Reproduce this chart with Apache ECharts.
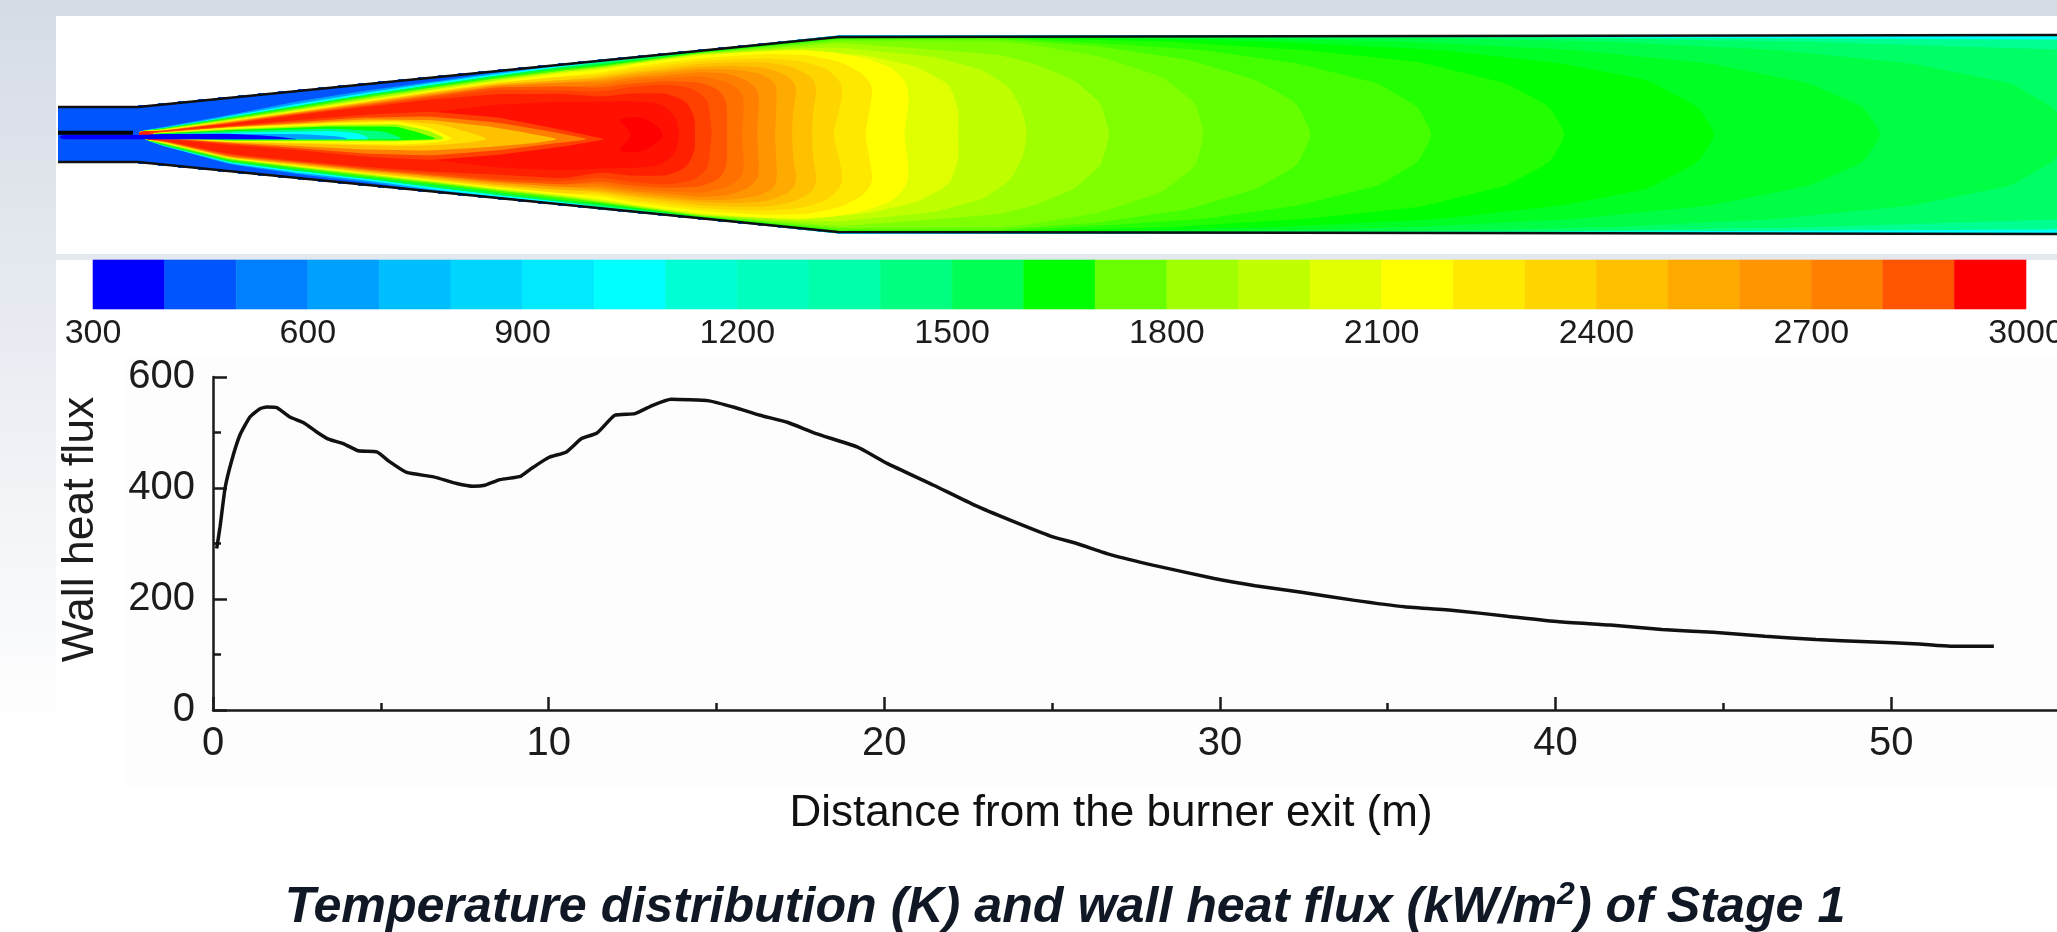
<!DOCTYPE html>
<html><head><meta charset="utf-8">
<style>html,body{margin:0;padding:0;background:#fff;overflow:hidden}#c{width:2057px;height:932px}</style>
<script src="https://cdn.jsdelivr.net/npm/echarts@6/dist/echarts.min.js"></script>
</head><body><div id="c"></div>
<script>
// ---- wall heat flux curve
const distance=[0.11,0.21,0.36,0.56,0.80,1.10,1.40,1.60,1.90,2.29,2.69,3.09,3.44,3.88,4.33,4.88,5.27,5.77,6.57,7.26,7.76,8.10,8.55,9.16,9.46,10.0,10.53,10.98,11.44,11.97,12.57,13.1,13.65,14.78,15.55,16.3,17.13,17.97,19.19,20.1,21.47,22.69,23.75,24.97,25.73,26.79,28.0,29.83,31.05,32.43,33.97,35.5,37.04,38.56,40.1,41.63,43.17,44.7,46.24,47.76,49.3,50.83,51.76,53.06];
const wallHeatFlux=[291,330,400,450,495,528,543,546,545,528,518,501,488,480,467,465,447,428,420,408,403,405,415,421,434,455,465,489,499,531,534,549,560,557,545,531,518,498,474,444,405,369,342,313,300,279,261,237,224,212,198,186,179,169,159,153,145,140,133,127,123,119,115,115];
// ---- temperature colour scale
const scaleStart=[300,400,500,600,700,800,900,1000,1100,1200,1300,1400,1500,1600,1700,1800,1900,2000,2100,2200,2300,2400,2500,2600,2700,2800,2900];
const scaleColors=['#0000FF','#0055FF','#0080FF','#00A0FF','#00BFFF','#00D5FF','#00EAFF','#00FFFF','#00FFD5','#00FFBF','#00FFAA','#00FF80','#00FF55','#00FF00','#6AFF00','#A0FF00','#BFFF00','#E0FF00','#FFFF00','#FFEA00','#FFD500','#FFC000','#FFAA00','#FF9500','#FF8000','#FF5500','#FF0000'];
// ---- duct wall (axial position, half height)
const wallX=[58,138,158,178,198,218,238,258,278,298,318,338,358,378,398,418,438,458,478,498,518,538,558,578,598,618,638,658,678,698,718,738,758,778,798,818,838,2060];
const wallR=[27.5,29.5,31.5,33.5,35.5,37.5,39.5,41.5,43.5,45.5,47.5,49.5,51.5,53.5,55.5,57.5,59.5,61.5,63.5,65.5,67.5,69.5,71.5,73.5,75.5,77.5,79.5,81.5,83.5,85.5,87.5,89.5,91.5,93.5,95.5,97.5,99.5,99.5];
const lanceTip=[[58,1.8],[133,1.8]];
// ---- isotherm positions on the flame flanks at these axial stations
const flankStations=[163,230,297,363,430,497,563];
const flankBlueUp=[7.5,19.8,33,43.5,52.5,62,70.8], flankBlueLow=[-11,-29.8,-39.5,-47.2,-56.2,-63.8,-70.8];
const flankCyanUp=[6.5,18.5,30.5,41.2,51.2,60.5,69.2], flankCyanLow=[-11.5,-28.8,-38.2,-45.5,-54.5,-62.2,-69.5];
const flankSpringUp=[6.2,17.2,28.5,39.2,49.2,58.8,67.5], flankSpringLow=[-10.8,-27.5,-36.2,-43.8,-52.2,-60.2,-67.5];
const flankGreenUp=[5.5,16.2,27.2,37.8,47.2,57.2,65.5], flankGreenLow=[-9.5,-26.2,-34.2,-42.2,-49.5,-57.8,-65.5];
const flankLimeUp=[5.2,15.2,25.5,36.2,46.2,55.8,63.8], flankLimeLow=[-8.8,-24.8,-32.8,-40.5,-47.8,-55.8,-62.8];
const flankChartUp=[4.8,14.5,24.5,34.5,44.5,54.2,62.5], flankChartLow=[-8.5,-24.2,-32.2,-39.5,-46.8,-54.8,-61.5];
const flankYellowUp=[4.5,13.8,23.5,33.2,43.5,52.8,61.2], flankYellowLow=[-7.8,-23.8,-31.5,-38.8,-46.2,-53.8,-60.5];
const flankGoldUp=[4.2,13.5,22.8,32.5,42.5,51.8,58], flankGoldLow=[-7.5,-23.5,-30.8,-38.2,-45.2,-52.5,-58.8];
const flankAmberUp=[3.8,12.8,22.2,31.5,41.2,50.2,54.5], flankAmberLow=[-7.2,-22.8,-29.8,-36.8,-43.5,-50.5,-55.5];
const flankOrangeUp=[3.8,12.2,21.5,30.5,39.8,48.8,52], flankOrangeLow=[-6.8,-22.2,-28.8,-35.5,-41.8,-48.2,-52.5];
const flankDeepUp=[3.5,11.5,20.8,29.2,38.2,47.2,48], flankDeepLow=[-6.5,-21.5,-27.8,-34.5,-40.5,-46.5,-50];
const flankVermUp=[3.5,11.2,20.2,28.2,36.5,44.8,44], flankVermLow=[-6.2,-20.5,-27.2,-33.5,-38.8,-44.5,-47];
const flankRedUp=[3.2,10.8,19.5,27.2,34.8,40.5,40.5], flankRedLow=[-5.8,-19.5,-26.2,-32.2,-37.2,-40,-44];
// ---- isotherm continuation downstream (symmetric about the axis)
const tails={
 '#00A0FF':[[600,75],[700,84.5],[840,99.3],[2070,99.3]],
 '#00FFFF':[[600,73.5],[700,84],[840,99],[2070,99]],
 '#00FF90':[[600,72.5],[700,83.5],[840,98.4],[1500,97.5],[2070,95]],
 '#00FF66':[[600,71.5],[700,83],[840,98],[1539,96.8],[1809,92.8],[2070,84.5]],
 '#00FF44':[[600,70.5],[700,82.7],[840,97.7],[1405,96.8],[1607,92.8],[1775,84.5],[1910,71.2],[2011,51.2],[2057,24.5],[2062,0]],
 '#00FF22':[[600,70],[700,82.5],[840,97.4],[1202,97.2],[1405,92.8],[1573,84.5],[1708,71.2],[1809,51.2],[1863,27.8],[1882,0]],
 '#00FF00':[[600,69.5],[700,82.3],[840,97.2],[1067,97.2],[1270,92.8],[1438,84.5],[1560,71.2],[1647,54.5],[1698,27.8],[1716,0]],
 '#22FF00':[[600,69],[700,82],[840,96.8],[1000,97],[1169,92.8],[1303,84.5],[1418,72.8],[1506,51.2],[1550,27.8],[1566,0]],
 '#44FF00':[[600,68.8],[700,81.8],[840,96],[1000,96.4],[1101,91.2],[1202,84.5],[1297,71.2],[1378,51.2],[1418,27.8],[1433,0]],
 '#66FF00':[[600,68.3],[700,81.5],[840,95],[1000,95.2],[1101,87.8],[1189,74.5],[1256,54.5],[1297,31.2],[1312,0]],
 '#80FF00':[[600,67.8],[700,81.2],[840,93.5],[1000,92.8],[1034,89.5],[1101,77.8],[1162,57.8],[1196,31.2],[1204,0]],
 '#A0FF00':[[600,67.3],[700,80.9],[840,91.5],[920,86],[1000,79.5],[1034,71.2],[1074,54.5],[1101,31.2],[1110,0]],
 '#BFFF00':[[600,66.7],[700,80.5],[800,86.5],[840,87],[883,82.8],[933,77.8],[983,64.5],[1010,46.2],[1023,22.8],[1027,0]],
 '#E0FF00':[[600,65.8],[700,80],[800,85],[867,79],[917,67.8],[950,49.5],[959,22.8],[958,0]],
 '#FFFF00':[[600,64.5],[633,70.2],[667,74.5],[700,78.8],[733,81.5],[767,83.5],[800,84.5],[833,82.2],[867,76.2],[893,66.2],[907,51.2],[909,32.8],[904,0]],
 '#FFE800':[[600,61.8],[633,67.8],[667,72.2],[700,76.2],[733,78.5],[767,80.5],[807,79.5],[840,72.8],[863,61.2],[873,47.8],[870,26.2],[865,0]],
 '#FFD500':[[600,59.5],[633,65.5],[667,69.5],[700,73.5],[733,75.5],[767,76.2],[800,73.8],[827,66.2],[842,51.2],[842,36.2],[833,0]],
 '#FFC000':[[600,57.8],[633,62.8],[667,66.8],[700,70.8],[733,72.2],[767,72.2],[793,67.8],[812,57.8],[817,46.2],[813,22.8],[812,0]],
 '#FFAA00':[[600,56.2],[633,61.2],[667,64.5],[700,67.8],[733,68.8],[767,66.8],[790,57.8],[797,46.2],[793,22.8],[792,0]],
 '#FF9500':[[600,54.5],[633,58.8],[667,62.2],[700,65.5],[733,65.2],[760,61.2],[775,52.8],[777,41.2],[775,0]],
 '#FF8000':[[600,52.2],[633,56.8],[667,59.5],[700,62.5],[727,61.2],[747,54.5],[758,44.5],[759,32.8],[757,0]],
 '#FF7000':[[600,49.5],[633,54.5],[667,56.8],[700,58.8],[727,52.8],[742,42.8],[744,29.5],[742,0]],
 '#FF5500':[[600,46.8],[633,51.2],[667,53.5],[700,52.2],[720,44.5],[727,31.2],[727,0]],
 '#FF4000':[[600,42.8],[633,47.8],[667,50.2],[693,46.2],[708,34.5],[712,0]],
 '#FF2000':[[600,37.8],[633,41.2],[667,41.2],[687,32.8],[695,16.2],[695,0]]
};
// ---- closed hot cores and the colder central jet
const coreDeepRed=[[430,22],[497,30],[563,32.8],[600,32.8],[633,33.5],[660,31.2],[675,19.5],[680,0],[675,-19.5],[660,-31.2],[633,-33.5],[600,-34],[563,-36],[497,-33],[430,-25]];
const corePureRed=[[617,16.2],[643,17.8],[660,6.2],[663,0],[660,-6],[643,-17.5],[617,-17.8],[633,0]];
const jetBands={
 '#FF4000':[[145,2],[230,8.8],[297,14.5],[363,19.5],[430,22.8],[497,17.2],[563,4.5],[607,-4.8],[563,-12],[497,-20.5],[430,-25.5],[363,-22],[297,-15.5],[230,-10.5],[163,-4]],
 '#FF8000':[[150,1.5],[230,7.8],[297,12.5],[363,17],[430,18],[497,12],[545,4],[590,-4.8],[545,-10],[497,-16],[430,-21],[363,-19],[297,-13.5],[230,-9],[163,-3.5]],
 '#FFC000':[[150,1.2],[230,7.2],[297,11],[363,15],[430,14.5],[490,8],[530,1],[560,-4.8],[530,-9],[490,-12.5],[430,-16],[363,-15],[297,-11.5],[230,-8],[163,-3.5]],
 '#FFE000':[[150,1.1],[230,7],[330,12],[397,14],[440,10],[470,2],[490,-4.8],[460,-9],[430,-11],[397,-11.5],[330,-10],[230,-7.6],[163,-3]],
 '#FFFF00':[[150,1],[230,6.8],[330,11.2],[397,12.8],[430,7],[455,-4.8],[430,-8.8],[397,-10],[330,-9],[230,-7.2],[163,-3]],
 '#A0FF00':[[150,.8],[230,5.5],[330,9.6],[397,10.4],[430,3.5],[447,-4.8],[397,-7],[230,-6.5],[163,-3]],
 '#00FF00':[[150,.5],[230,4.5],[330,8],[397,8],[425,0],[438,-4.8],[397,-5.8],[230,-5.8],[163,-3]],
 '#00FF80':[[150,0],[230,3.2],[330,6],[385,3],[405,-4.8],[230,-5],[160,-3.5]],
 '#00FFFF':[[150,-.5],[230,1.8],[330,3.5],[358,1.5],[372,-4.8],[160,-4.5]],
 '#00A0FF':[[150,-1],[230,.6],[300,.5],[340,-2],[350,-4.8],[155,-4.8]],
 '#0000FF':[[60,-.5],[140,-.5],[160,.5],[230,.8],[270,-1.5],[300,-4.8],[60,-4.8]]
};

function mirrored(tail){ return tail.slice().reverse().filter(p=>p[1]!==0).map(p=>[p[0],-p[1]]); }
function isotherm(up,low,tail){
  const a=flankStations.map((x,i)=>[x,up[i]]);
  const b=flankStations.map((x,i)=>[x,low[i]]).reverse();
  return [[137,3]].concat(a,tail,mirrored(tail),b,[[143,-4.5]]);
}
// Rounds each corner of a closed outline without ever leaving its hull.
function rounded(points,passes,reach){
  let pts=points;
  for(let n=0;n<passes;n++){
    const out=[];
    pts.forEach((p,i)=>{
      const q=pts[(i+1)%pts.length];
      const len=Math.hypot(q[0]-p[0],q[1]-p[1])||1;
      const t=Math.min(.25,reach/len);
      out.push([p[0]+(q[0]-p[0])*t,p[1]+(q[1]-p[1])*t]);
      out.push([q[0]-(q[0]-p[0])*t,q[1]-(q[1]-p[1])*t]);
    });
    pts=out;
  }
  return pts;
}
const ductOutline=(function(){
  const top=[];wallX.forEach((x,i)=>{ if(i>0) top.push([x,wallR[i-1]]); top.push([x,wallR[i]]); });
  return top.concat(top.slice().reverse().map(p=>[p[0],-p[1]]));
})();
const fieldBands=[
 ['#0055FF',ductOutline],
 ['#00A0FF',isotherm(flankBlueUp,flankBlueLow,tails['#00A0FF'])],
 ['#00FFFF',isotherm(flankCyanUp,flankCyanLow,tails['#00FFFF'])],
 ['#00FF90',isotherm(flankSpringUp,flankSpringLow,tails['#00FF90'])],
 ['#00FF66',isotherm(flankSpringUp,flankSpringLow,tails['#00FF66'])],
 ['#00FF44',isotherm(flankSpringUp,flankSpringLow,tails['#00FF44'])],
 ['#00FF22',isotherm(flankGreenUp,flankGreenLow,tails['#00FF22'])],
 ['#00FF00',isotherm(flankGreenUp,flankGreenLow,tails['#00FF00'])],
 ['#22FF00',isotherm(flankGreenUp,flankGreenLow,tails['#22FF00'])],
 ['#44FF00',isotherm(flankGreenUp,flankGreenLow,tails['#44FF00'])],
 ['#66FF00',isotherm(flankLimeUp,flankLimeLow,tails['#66FF00'])],
 ['#80FF00',isotherm(flankLimeUp,flankLimeLow,tails['#80FF00'])],
 ['#A0FF00',isotherm(flankLimeUp,flankLimeLow,tails['#A0FF00'])],
 ['#BFFF00',isotherm(flankChartUp,flankChartLow,tails['#BFFF00'])],
 ['#E0FF00',isotherm(flankChartUp,flankChartLow,tails['#E0FF00'])],
 ['#FFFF00',isotherm(flankYellowUp,flankYellowLow,tails['#FFFF00'])],
 ['#FFE800',isotherm(flankGoldUp,flankGoldLow,tails['#FFE800'])],
 ['#FFD500',isotherm(flankGoldUp,flankGoldLow,tails['#FFD500'])],
 ['#FFC000',isotherm(flankAmberUp,flankAmberLow,tails['#FFC000'])],
 ['#FFAA00',isotherm(flankAmberUp,flankAmberLow,tails['#FFAA00'])],
 ['#FF9500',isotherm(flankOrangeUp,flankOrangeLow,tails['#FF9500'])],
 ['#FF8000',isotherm(flankOrangeUp,flankOrangeLow,tails['#FF8000'])],
 ['#FF7000',isotherm(flankDeepUp,flankDeepLow,tails['#FF7000'])],
 ['#FF5500',isotherm(flankDeepUp,flankDeepLow,tails['#FF5500'])],
 ['#FF4000',isotherm(flankVermUp,flankVermLow,tails['#FF4000'])],
 ['#FF2000',isotherm(flankRedUp,flankRedLow,tails['#FF2000'])],
 ['#FF1000',coreDeepRed],
 ['#FF0000',corePureRed]
].concat(Object.keys(jetBands).map(c=>[c,jetBands[c]]));

const FONT='"Liberation Sans",Arial,sans-serif';
const INK='#1c1c1c';
const chart=echarts.init(document.getElementById('c'),null,{renderer:'canvas'});
chart.setOption({
  animation:false,
  backgroundColor:'#ffffff',
  title:{
    text:'{t|Temperature distribution (K) and wall heat flux (kW/m}{s|2}{t|) of Stage 1}',
    left:1060,top:874,textAlign:'center',
    textStyle:{rich:{
      t:{fontFamily:FONT,fontSize:50.2,fontWeight:'bold',fontStyle:'italic',color:'#0f1824',lineHeight:58},
      s:{fontFamily:FONT,fontSize:32,fontWeight:'bold',fontStyle:'italic',color:'#0f1824',lineHeight:58,verticalAlign:'top',padding:[0,0,14,0]}
    }}
  },
  graphic:[
    {type:'rect',silent:true,z:-10,shape:{x:0,y:0,width:56,height:735},
      style:{fill:new echarts.graphic.LinearGradient(0,0,0,1,[{offset:0,color:'#d6dce5'},{offset:.36,color:'#e4e8ef'},{offset:1,color:'#ffffff'}])}},
    {type:'rect',silent:true,z:-10,shape:{x:0,y:0,width:2057,height:16},style:{fill:'#d6dce5'}},
    {type:'rect',silent:true,z:-10,shape:{x:56,y:254,width:2001,height:6},style:{fill:'#e4e8ef'}},
    {type:'rect',silent:true,z:-10,shape:{x:125,y:358,width:1932,height:430},style:{fill:'#fdfdfd'}}
  ],
  grid:[
    {left:0,top:0,width:2057,height:269,outerBoundsMode:'none'},
    {left:93,top:260,width:1933,height:49,outerBoundsMode:'none'},
    {left:213,top:377,width:1846,height:333,outerBoundsMode:'none'}
  ],
  xAxis:[
    {gridIndex:0,type:'value',min:0,max:2057,show:false},
    {gridIndex:1,type:'value',min:300,max:3000,interval:300,
      axisLine:{show:false},axisTick:{show:false},splitLine:{show:false},
      axisLabel:{fontFamily:FONT,fontSize:34,color:INK,margin:8,showMinLabel:true,showMaxLabel:true,hideOverlap:false,formatter:v=>String(v)}},
    {gridIndex:2,type:'value',min:0,max:55,interval:10,
      name:'Distance from the burner exit (m)',nameLocation:'middle',nameGap:82,
      nameTextStyle:{fontFamily:FONT,fontSize:44,color:'#111',padding:[0,50,0,0]},
      axisLine:{lineStyle:{color:'#1a1a1a',width:2.5}},
      axisTick:{inside:true,length:13,lineStyle:{color:'#1a1a1a',width:2.5}},
      minorTick:{show:true,splitNumber:2,length:7,lineStyle:{color:'#1a1a1a',width:2.5}},
      splitLine:{show:false},minorSplitLine:{show:false},
      axisLabel:{fontFamily:FONT,fontSize:40,color:INK,margin:14,showMaxLabel:false}}
  ],
  yAxis:[
    {gridIndex:0,type:'value',min:-134.5,max:134.5,show:false},
    {gridIndex:1,type:'value',min:0,max:1,show:false},
    {gridIndex:2,type:'value',min:0,max:600,interval:200,
      name:'Wall heat flux',nameLocation:'middle',nameGap:110,
      nameTextStyle:{fontFamily:FONT,fontSize:44.5,color:INK,padding:[0,0,0,28]},
      axisLine:{show:true,lineStyle:{color:'#1a1a1a',width:2.5}},
      axisTick:{show:true,inside:true,length:14,lineStyle:{color:'#1a1a1a',width:2.5}},
      minorTick:{show:true,splitNumber:2,length:8,lineStyle:{color:'#1a1a1a',width:2.5}},
      splitLine:{show:false},minorSplitLine:{show:false},
      axisLabel:{fontFamily:FONT,fontSize:40,color:INK,margin:18,padding:[0,0,6,0]}}
  ],
  series:[
    {type:'custom',name:'Temperature field',xAxisIndex:0,yAxisIndex:0,silent:true,z:2,clip:false,
      data:fieldBands.map((b,i)=>[i,0]),
      encode:{x:0,y:1},
      renderItem:function(params,api){
        const band=fieldBands[params.dataIndex];
        const outline=params.dataIndex===0?band[1]:rounded(band[1],2,4);
        return {type:'polygon',
          shape:{points:outline.map(p=>api.coord(p))},
          style:{fill:band[0]}};
      }},
    {type:'line',name:'Upper wall',xAxisIndex:0,yAxisIndex:0,z:4,step:'end',symbol:'none',silent:true,
      lineStyle:{color:'#111',width:2.5},data:wallX.map((x,i)=>[x,wallR[i]])},
    {type:'line',name:'Lower wall',xAxisIndex:0,yAxisIndex:0,z:4,step:'end',symbol:'none',silent:true,
      lineStyle:{color:'#111',width:2.5},data:wallX.map((x,i)=>[x,-wallR[i]])},
    {type:'line',name:'Lance',xAxisIndex:0,yAxisIndex:0,z:4,symbol:'none',silent:true,
      lineStyle:{color:'#000',width:4},data:lanceTip},
    {type:'custom',name:'Colour scale',xAxisIndex:1,yAxisIndex:1,silent:true,z:2,
      data:scaleStart.map((s,i)=>[s,s+100]),
      encode:{x:[0,1]},
      renderItem:function(params,api){
        const a=api.coord([api.value(0),1]),b=api.coord([api.value(1),0]);
        const c=scaleColors[params.dataIndex];
        return {type:'rect',shape:{x:a[0],y:a[1],width:b[0]-a[0],height:b[1]-a[1]},
          style:{fill:c,stroke:c,lineWidth:.6}};
      }},
    {type:'line',name:'Wall heat flux',xAxisIndex:2,yAxisIndex:2,z:5,symbol:'none',silent:true,smooth:0.15,
      lineStyle:{color:'#111',width:3.5},
      data:distance.map((d,i)=>[d,wallHeatFlux[i]])}
  ]
});
</script></body></html>
